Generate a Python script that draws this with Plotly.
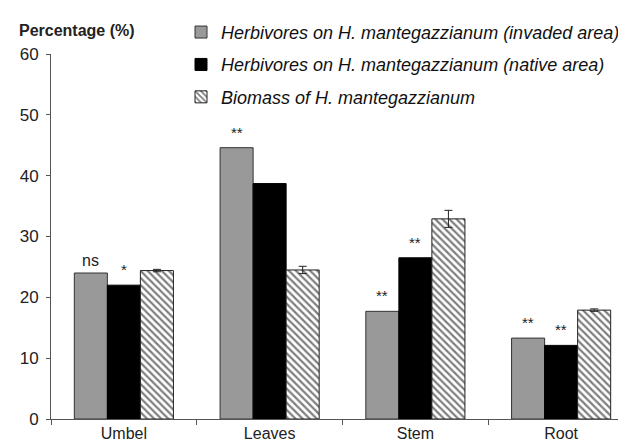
import plotly.graph_objects as go

categories = ["Umbel", "Leaves", "Stem", "Root"]
invaded = [24.0, 44.6, 17.7, 13.3]
native = [22.0, 38.7, 26.5, 12.1]
biomass = [24.4, 24.5, 32.9, 17.9]
biomass_err = [0.2, 0.6, 1.4, 0.2]
sig_invaded = ["ns", "**", "**", "**"]
sig_native = ["*", "", "**", "**"]
series_names = [
    "Herbivores on H. mantegazzianum (invaded area)",
    "Herbivores on H. mantegazzianum (native area)",
    "Biomass of H. mantegazzianum",
]
yticks = [0, 10, 20, 30, 40, 50, 60]

FONT = "Arial, Liberation Sans, sans-serif"
L, R, T, B = 43, 0, 46, 32
PW = 626 - L - R
PH = 443 - T - B

fig = go.Figure()
fig.add_trace(go.Bar(
    x=categories, y=invaded, name=series_names[0], legendgroup="a",
    marker=dict(color="#999999", line=dict(color="#333333", width=1)),
))
fig.add_trace(go.Bar(
    x=categories, y=native, name=series_names[1], legendgroup="b",
    marker=dict(color="#000000", line=dict(color="#000000", width=1)),
))
fig.add_trace(go.Bar(
    x=categories, y=biomass, name=series_names[2], legendgroup="c",
    marker=dict(color="#ffffff", line=dict(color="#222222", width=1),
                pattern=dict(shape="\\", fgcolor="#000000", bgcolor="#ffffff",
                             size=5, solidity=0.45)),
    error_y=dict(type="data", array=biomass_err, visible=True,
                 color="#222222", thickness=1, width=4),
))

anns = []
for i, c in enumerate(categories):
    for txt, val, shift in ((sig_invaded[i], invaded[i], -33), (sig_native[i], native[i], 0)):
        if not txt:
            continue
        is_ns = txt == "ns"
        anns.append(dict(x=c, y=val, xref="x", yref="y", text=txt,
                         showarrow=False, xshift=shift, yshift=2 if is_ns else 5,
                         yanchor="bottom",
                         font=dict(family=FONT, size=16 if is_ns else 15, color="#222")))
anns.append(dict(x=(9 - L) / PW, y=1 + (T - 23) / PH, xref="paper", yref="paper",
                 text="<b>Percentage (%)</b>", showarrow=False,
                 xanchor="left", yanchor="middle",
                 font=dict(family=FONT, size=16, color="#222")))

fig.update_layout(
    width=626, height=443,
    margin=dict(l=L, r=R, t=T, b=B, autoexpand=False),
    paper_bgcolor="white", plot_bgcolor="white",
    barmode="group", bargap=0.32, bargroupgap=0,
    font=dict(family=FONT, size=16, color="#222"),
    showlegend=True,
    legend=dict(x=(173 - L) / PW, y=1.11, xanchor="left", yanchor="top",
                font=dict(family=FONT, size=18, color="#111", style="italic"),
                tracegroupgap=6, bgcolor="rgba(0,0,0,0)",
                itemwidth=30),
    annotations=anns,
    xaxis=dict(showline=True, linecolor="#555", linewidth=1, automargin=False,
               ticks="outside", ticklen=5, tickcolor="#555", tickson="boundaries",
               tickfont=dict(family=FONT, size=16, color="#222"), showgrid=False),
    yaxis=dict(range=[0, 60], tickvals=yticks, showline=True, linecolor="#555", linewidth=1,
               automargin=False, ticks="outside", ticklen=4, tickcolor="#555",
               ticklabelstandoff=4,
               showgrid=False, zeroline=False,
               tickfont=dict(family=FONT, size=17, color="#222")),
)
fig.write_html("out.html")
